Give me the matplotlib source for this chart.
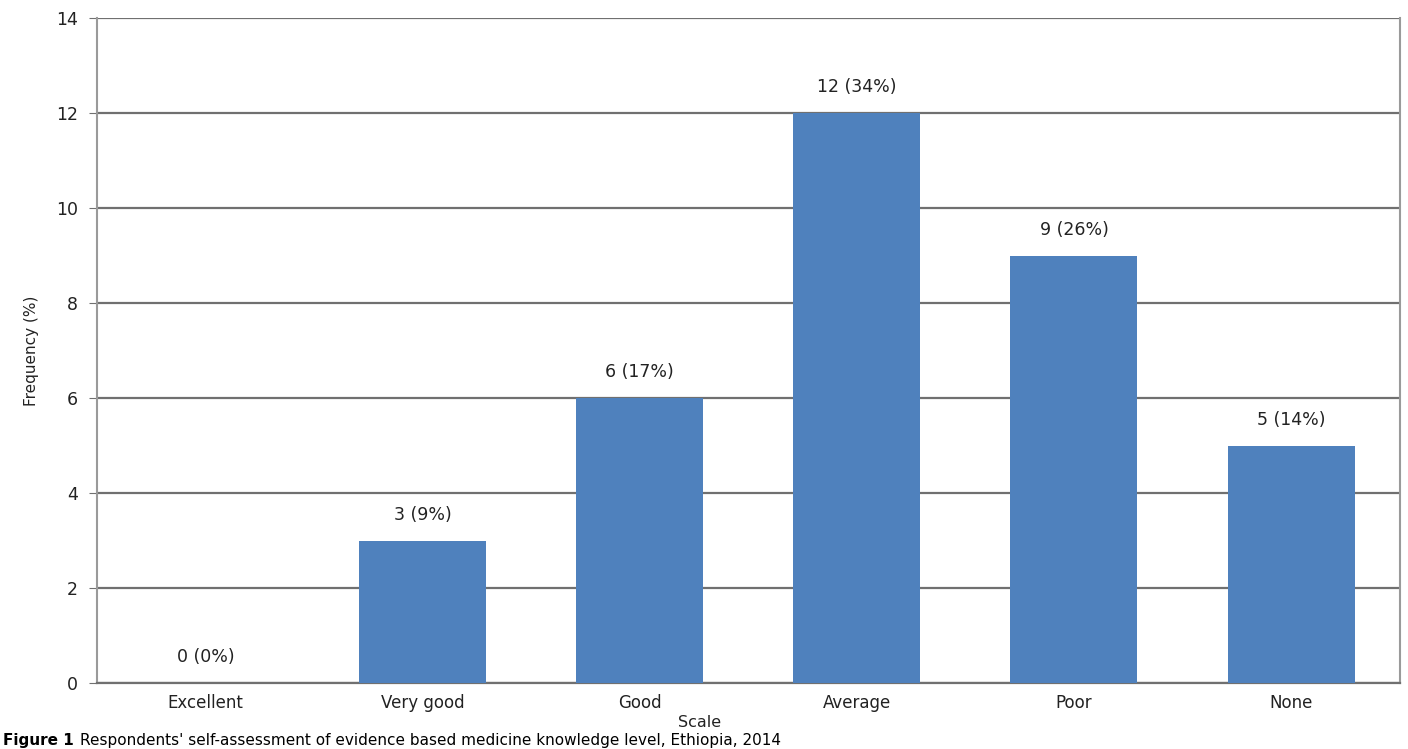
#!/usr/bin/env python3
"""Self-assessment of EBM knowledge: frequency by scale."""
import matplotlib
matplotlib.use('Agg')
import matplotlib.pyplot as plt

categories = ['Excellent', 'Very good', 'Good', 'Average', 'Poor', 'None']
counts = [0, 3, 6, 12, 9, 5]
percents = [0, 9, 17, 34, 26, 14]

bar_color = '#4F81BD'
grid_color = '#707070'


def main():
    fig = plt.figure(figsize=(14.08, 7.49), dpi=100)
    ax = fig.add_axes([0.069, 0.088, 0.925, 0.888])

    x = list(range(len(categories)))
    ax.bar(x, counts, width=0.585, color=bar_color, zorder=3)

    for xi, c, p in zip(x, counts, percents):
        ax.text(xi, c + 0.35, f'{c} ({p}%)', ha='center', va='bottom',
                fontsize=12.5, color='#222222', zorder=4)

    ax.set_xlim(-0.5, len(categories) - 0.5)
    ax.set_ylim(0, 14)
    ax.set_yticks(range(0, 15, 2))
    ax.set_xticks(x)
    ax.set_xticklabels(categories, fontsize=12, color='#222222')
    ax.tick_params(axis='y', labelsize=12.5, length=6, color=grid_color, labelcolor='#222222', pad=8)
    ax.tick_params(axis='x', length=0, pad=8)

    ax.yaxis.grid(True, color=grid_color, linewidth=1.6, zorder=0)
    for side in ['left', 'right']:
        ax.spines[side].set_color('#9a9a9a')
        ax.spines[side].set_linewidth(1.5)
    ax.spines['top'].set_visible(False)
    ax.spines['bottom'].set_color(grid_color)
    ax.spines['bottom'].set_linewidth(1.6)

    ax.set_ylabel('Frequency (%)', fontsize=11, color='#222222', labelpad=12)
    fig.text(0.497, 0.035, 'Scale', ha='center', va='center', fontsize=11.5, color='#222222')

    fig.text(0.002, 0.002, 'Figure 1', ha='left', va='bottom', fontsize=11, fontweight='bold')
    fig.text(0.057, 0.002,
             "Respondents' self-assessment of evidence based medicine knowledge level, Ethiopia, 2014",
             ha='left', va='bottom', fontsize=11)

    fig.savefig('out.png', dpi=100)
    plt.close(fig)


if __name__ == '__main__':
    main()
